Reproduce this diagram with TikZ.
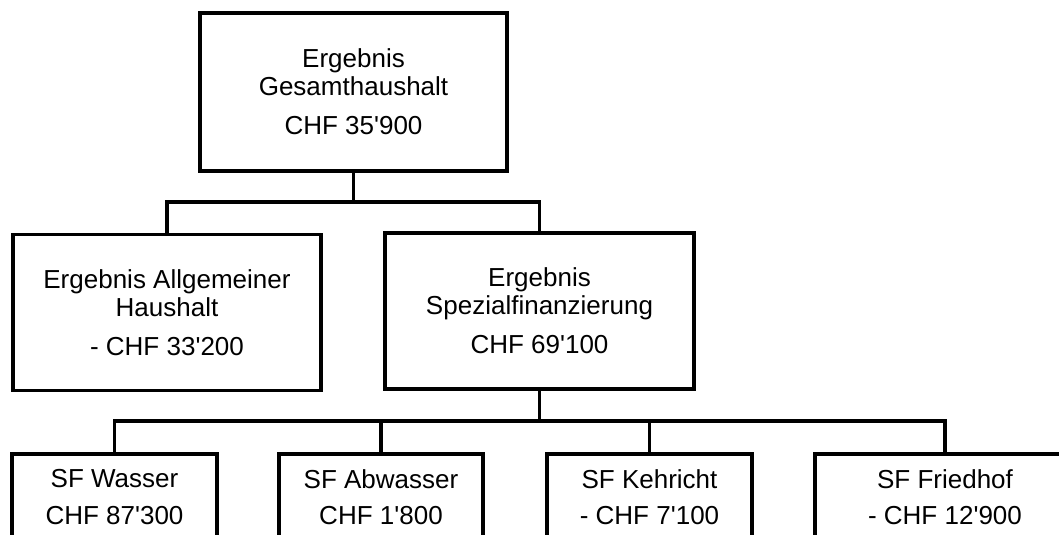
\documentclass[tikz,border=0pt]{standalone}
\usepackage{fontspec}
\setmainfont{Liberation Sans}
\tikzset{
  box/.style={draw,line width=2.8pt,align=center,font=\fontsize{18.5}{19.8}\selectfont,inner sep=2pt},
  con/.style={line width=2.6pt}
}

\begin{document}
\begin{tikzpicture}[x=0.025cm,y=-0.025cm,
 gbox/.style={box,minimum width=7.675cm,minimum height=3.95cm},
 hbox/.style={box,minimum width=7.7cm,minimum height=3.9cm},
 sfbox/.style={box,minimum width=5.12cm,minimum height=2.15cm}]
\useasboundingbox (0,0) rectangle (1059,534);
\clip (0,0) rectangle (1059,534);
\node[gbox] (ges) at (353.5,92) {Ergebnis\\Gesamthaushalt\\[8pt]CHF 35\textquotesingle 900};
\node[hbox] (allg) at (167,312.5) {Ergebnis Allgemeiner\\Haushalt\\[8pt]- CHF 33\textquotesingle 200};
\node[hbox] (spez) at (539.5,311) {Ergebnis\\Spezialfinanzierung\\[8pt]CHF 69\textquotesingle 100};
\node[sfbox] (wasser) at (114.5,497) {SF Wasser\\[6pt]CHF 87\textquotesingle 300};
\node[sfbox] (abwasser) at (381,497) {SF Abwasser\\[6pt]CHF 1\textquotesingle 800};
\node[sfbox] (kehricht) at (649.5,497) {SF Kehricht\\[6pt]- CHF 7\textquotesingle 100};
\node[sfbox,minimum width=6.5cm] (friedhof) at (945,497) {SF Friedhof\\[6pt]- CHF 12\textquotesingle 900};
\coordinate (bus1) at (353.5,202);
\coordinate (bus2) at (539.5,421);
\draw[con] (ges) -- (bus1) -| (allg.north);
\draw[con] (bus1) -| (spez.north);
\draw[con] (spez) -- (bus2);
\draw[con] (bus2) -| (wasser.north);
\draw[con] (bus2) -| (abwasser.north);
\draw[con] (bus2) -| (kehricht.north);
\draw[con] (bus2) -| (friedhof.north);
\end{tikzpicture}
\end{document}
